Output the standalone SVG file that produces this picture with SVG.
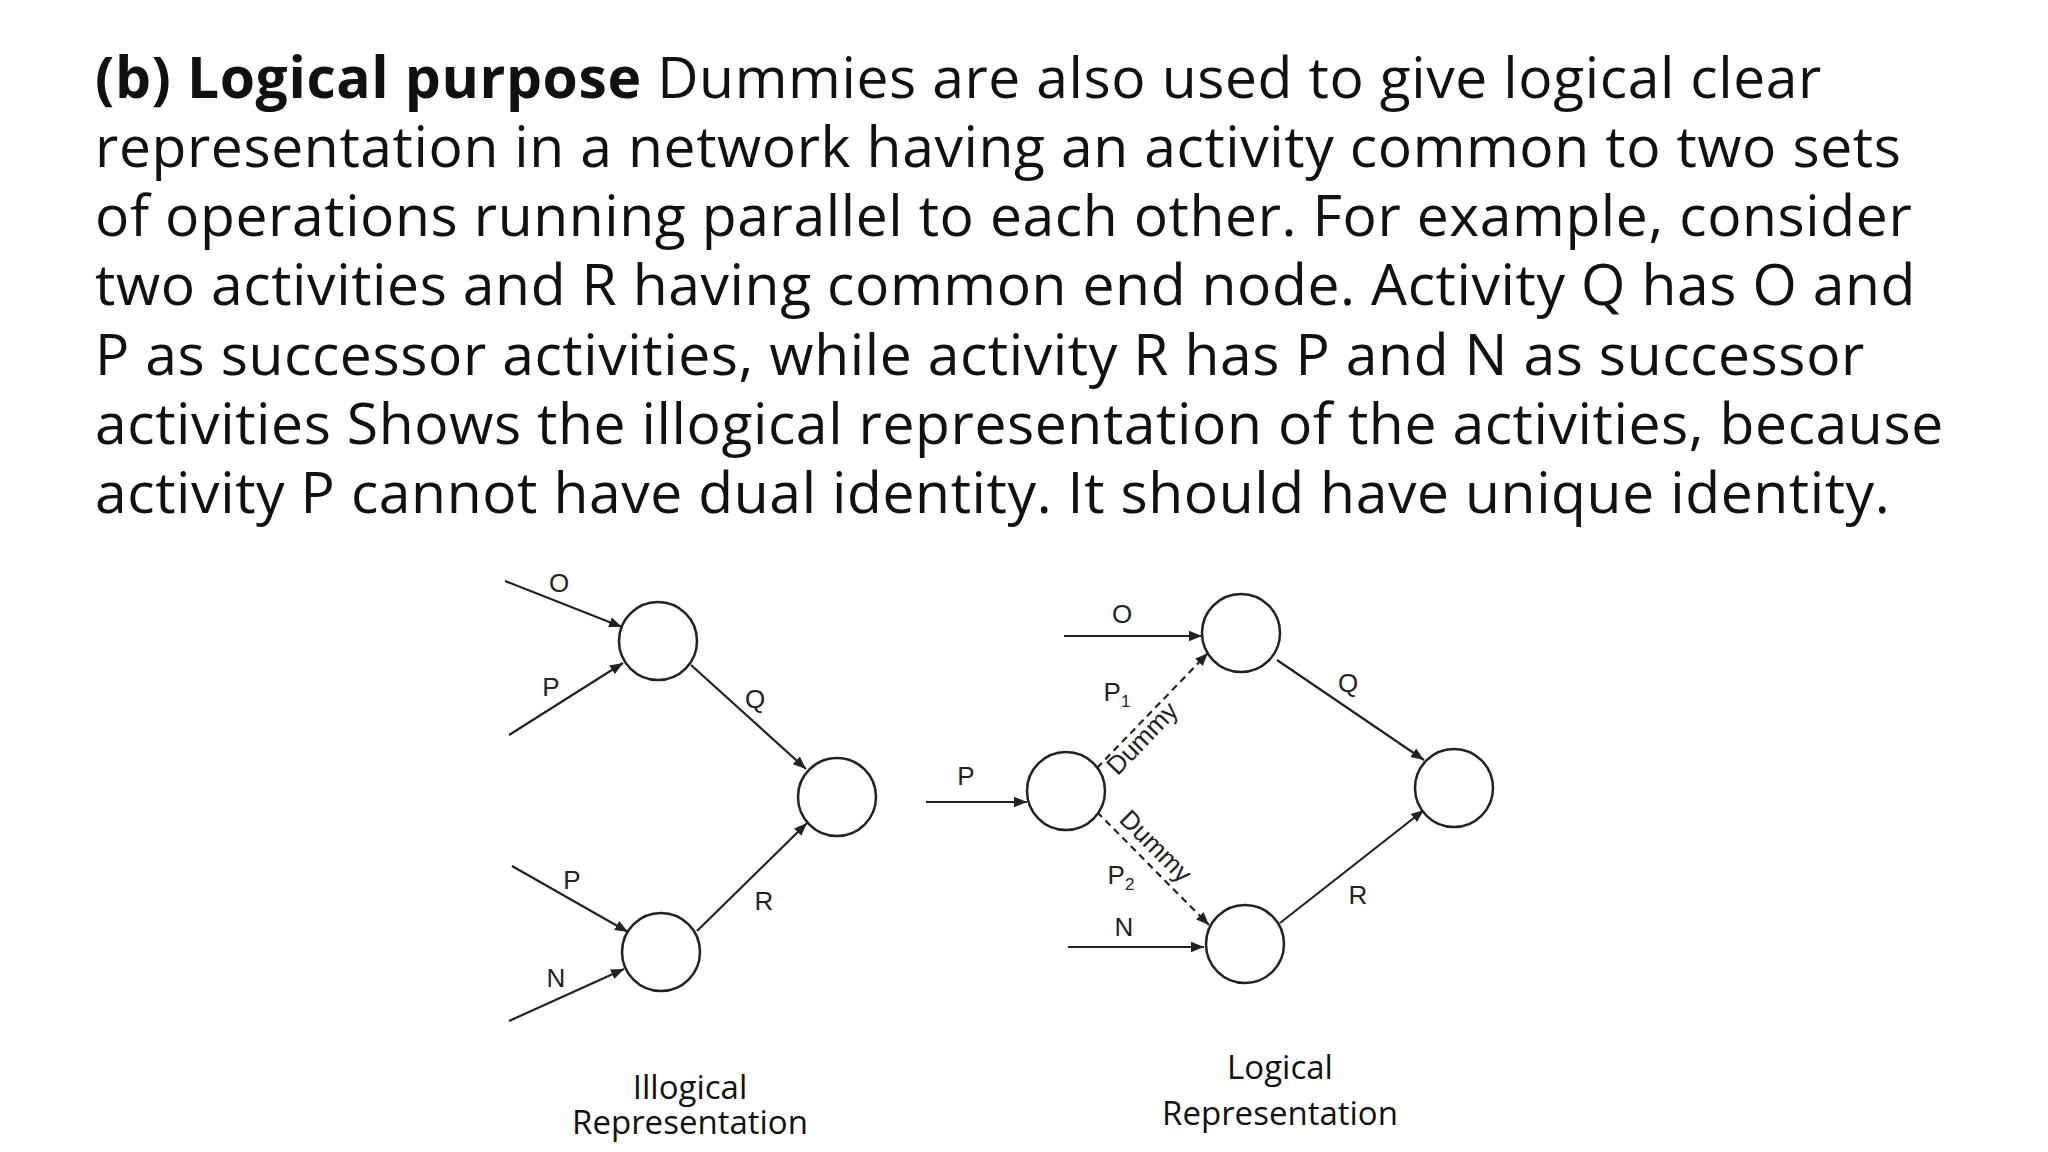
<svg xmlns="http://www.w3.org/2000/svg" width="2048" height="1152" viewBox="0 0 2048 1152">
<style>
.t{font-family:"Open Sans","Noto Sans",sans-serif;font-size:57px;letter-spacing:0.6px;fill:#111}
.b{font-weight:bold}
.l{font-family:"Liberation Sans",Arial,sans-serif;font-size:26px;fill:#222;text-anchor:middle}
.c{font-family:"Open Sans","Noto Sans",sans-serif;font-size:33px;fill:#111;text-anchor:middle}
.n{fill:#fff;stroke:#222;stroke-width:2.5}
.e{stroke:#222;stroke-width:2.2;fill:none;marker-end:url(#a)}
.d{stroke:#222;stroke-width:2.2;fill:none;stroke-dasharray:7 5;marker-end:url(#a)}
</style>
<defs><marker id="a" viewBox="0 0 10 10" refX="10" refY="5" markerWidth="13" markerHeight="13" orient="auto" markerUnits="userSpaceOnUse"><path d="M0,1 L10,5 L0,9 z" fill="#222"/></marker></defs>
<rect width="2048" height="1152" fill="#fff"/>
<g id="para">
<text class="t" x="95" y="98"><tspan class="b">(b) Logical purpose</tspan> Dummies are also used to give logical clear</text>
<text class="t" x="95" y="167">representation in a network having an activity common to two sets</text>
<text class="t" x="95" y="236">of operations running parallel to each other. For example, consider</text>
<text class="t" x="95" y="305">two activities and R having common end node. Activity Q has O and</text>
<text class="t" x="95" y="375">P as successor activities, while activity R has P and N as successor</text>
<text class="t" x="95" y="444">activities Shows the illogical representation of the activities, because</text>
<text class="t" x="95" y="513">activity P cannot have dual identity. It should have unique identity.</text>
</g>
<g id="edges">
<path class="e" d="M505,581 L622,627"/><path class="e" d="M509,735 L623,663"/><path class="e" d="M691,665 L806,769"/>
<path class="e" d="M512,866 L628,932"/><path class="e" d="M509,1021 L624,969"/><path class="e" d="M697,931 L807,823"/>
<path class="e" d="M1064,636 L1202,636"/><path class="e" d="M926,802 L1027,802"/><path class="e" d="M1068,947 L1204,947"/>
<path class="d" d="M1097,768 L1208,653"/><path class="d" d="M1097,812 L1209,925"/>
<path class="e" d="M1277,660 L1424,760"/><path class="e" d="M1280,923 L1424,810"/>
</g>
<g id="nodes">
<circle id="n1" class="n" cx="658" cy="641" r="39"/><circle id="n2" class="n" cx="837" cy="797" r="39"/><circle id="n3" class="n" cx="661" cy="952" r="39"/>
<circle id="n4" class="n" cx="1066" cy="791" r="39"/><circle id="n5" class="n" cx="1241" cy="633" r="39"/><circle id="n6" class="n" cx="1245" cy="944" r="39"/><circle id="n7" class="n" cx="1454" cy="788" r="39"/>
</g>
<g id="labels">
<text class="l" x="559" y="592">O</text><text class="l" x="551" y="696">P</text><text class="l" x="755" y="708">Q</text>
<text class="l" x="572" y="889">P</text><text class="l" x="764" y="910">R</text><text class="l" x="556" y="987">N</text>
<text class="l" x="1122" y="623">O</text><text class="l" x="966" y="785">P</text><text class="l" x="1124" y="936">N</text>
<text class="l" x="1117" y="701">P<tspan font-size="17" dy="6">1</tspan></text>
<text class="l" x="1121" y="884">P<tspan font-size="17" dy="6">2</tspan></text>
<text class="l" x="1348" y="692">Q</text><text class="l" x="1358" y="904">R</text>
<text class="l" transform="translate(1142,738) rotate(-46)" dy="0.35em">Dummy</text>
<text class="l" transform="translate(1156,846) rotate(45)" dy="0.35em">Dummy</text>
</g>
<g id="captions">
<text class="c" x="690" y="1099">Illogical</text><text class="c" x="690" y="1134">Representation</text>
<text class="c" x="1280" y="1079">Logical</text><text class="c" x="1280" y="1125">Representation</text>
</g>
</svg>
